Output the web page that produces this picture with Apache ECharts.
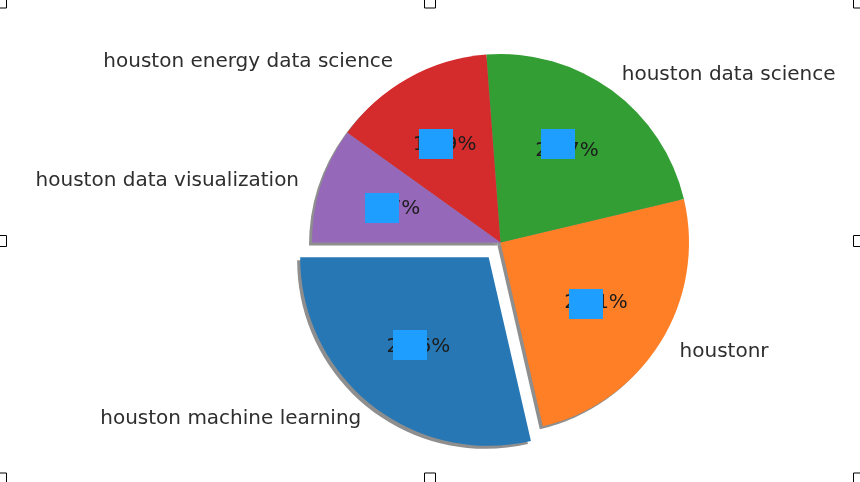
<!DOCTYPE html>
<html><head><meta charset="utf-8">
<script src="https://cdn.jsdelivr.net/npm/echarts@6/dist/echarts.min.js"></script>
<style>html,body{margin:0;padding:0;background:#fff;overflow:hidden}#c{width:860px;height:482px}</style>
</head><body><div id="c"></div>
<script>
const categories = ['houston machine learning','houstonr','houston data science','houston energy data science','houston data visualization'];
const shares = [28.6,25.1,22.5,13.9,9.9];
const percentLabels = ['28.6%','25.1%','22.7%','13.9%','9.7%'];
const colors = ['#2677b4','#ff7f27','#339e34','#d42b2c','#9668b9'];
const masks = [[393,330],[569,289],[541,129],[419,129],[365,193]];
const handles = [[-4.5,-3],[424.5,-3],[853.5,-3],[-4.5,235.5],[853.5,235.5],[-4.5,473],[424.5,473],[853.5,473]];
const nameNudge = [[-10,14],[19,10],[10,-16],[-15,-16],[-22,-4]];
const pctNudge = [[2,-1],[-3,-1],[-2,2],[1,4],[5,2]];
const CX=500.5, CY=242.5, R=188.5;
const base = {type:'pie',startAngle:180,clockwise:false,selectedMode:'multiple',selectedOffset:19,
  animation:false,avoidLabelOverlap:false,silent:true,emphasis:{disabled:true}};
const rows = (f)=>categories.map((n,i)=>Object.assign({name:n,value:shares[i],selected:i===0},f(i)));
const chart = echarts.init(document.getElementById('c'),null,{renderer:'canvas'});
chart.setOption({
  animation:false,
  series:[
    Object.assign({},base,{center:[CX-3,CY+3],radius:[0,R],label:{show:false},labelLine:{show:false},
      data:rows(()=>({itemStyle:{color:'#8e8e8e'}}))}),
    Object.assign({},base,{center:[CX,CY],radius:[0,R],labelLine:{show:false,length:0,length2:0},
      label:{show:true,position:'outside',distanceToLabelLine:0,fontFamily:'DejaVu Sans',fontSize:20,color:'#2e2e2e',formatter:'{b}'},
      labelLayout:p=>({dx:nameNudge[p.dataIndex][0],dy:nameNudge[p.dataIndex][1]}),
      data:rows(i=>({itemStyle:{color:colors[i]}}))}),
    Object.assign({},base,{center:[CX,CY],radius:[0,R*1.2],z:3,labelLine:{show:false},
      itemStyle:{color:'rgba(0,0,0,0)'},
      label:{show:true,position:'inside',fontFamily:'DejaVu Sans',fontSize:20,color:'#1c1c1c',
        formatter:p=>percentLabels[p.dataIndex]},
      labelLayout:p=>({dx:pctNudge[p.dataIndex][0],dy:pctNudge[p.dataIndex][1]}),
      data:rows(()=>({}))})
  ],
  graphic:[
    ...masks.map(m=>({type:'rect',z:100,shape:{x:m[0],y:m[1],width:34,height:30},style:{fill:'#1e9fff'}})),
    ...handles.map(h=>({type:'rect',z:100,shape:{x:h[0],y:h[1],width:11,height:11},style:{fill:'#fff',stroke:'#000',lineWidth:1}}))
  ]
});
</script></body></html>
